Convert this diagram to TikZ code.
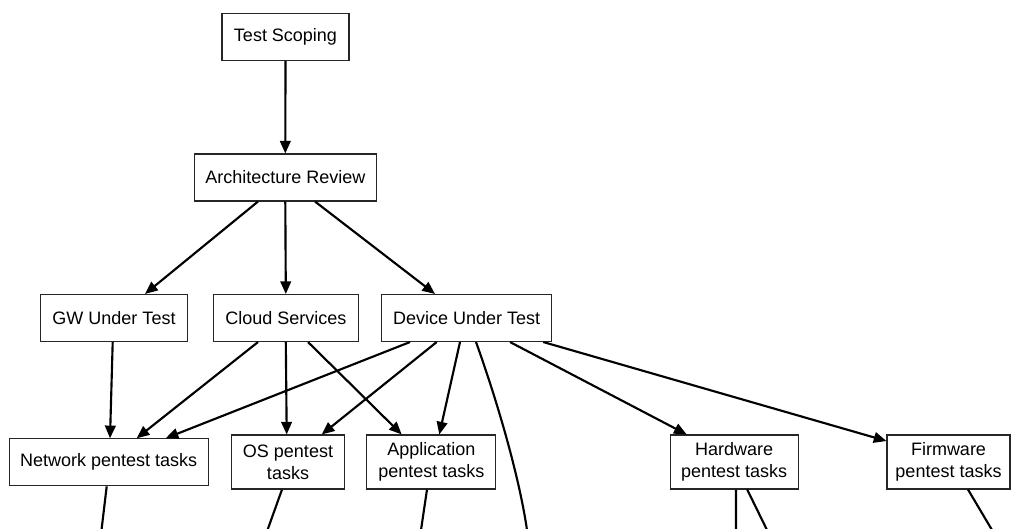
\documentclass[tikz,border=0pt]{standalone}
\usepackage{fontspec}
\setmainfont{Liberation Sans}
\usetikzlibrary{arrows.meta,calc}
\begin{document}
\begin{tikzpicture}[x=0.75pt,y=-0.75pt,
  box/.style={draw=black!85, line width=0.8pt, inner sep=0pt, align=center,
    font=\fontsize{13.5pt}{16.3pt}\selectfont},
  bx/.style 2 args={minimum width=#1*0.75pt, minimum height=#2*0.75pt},
  edge/.style={line width=1.6pt, -{Triangle[length=9.5pt,width=8pt]}},
  tailline/.style={line width=1.6pt}]
\useasboundingbox (0,0) rectangle (1012,528);
\begin{scope}
\clip (0,0) rectangle (1012,528);
% nodes
\node[box,bx={127}{47}] (ts)  at (285.5,37)    {Test Scoping};
\node[box,bx={182}{47}] (ar)  at (285.3,177.5) {Architecture Review};
\node[box,bx={147}{47}] (gw)  at (114,318)     {GW Under Test};
\node[box,bx={145}{47}] (cs)  at (285.8,318)   {Cloud Services};
\node[box,bx={170}{47}] (dut) at (466.7,318)   {Device Under Test};
\node[box,bx={199}{47}] (net) at (108.7,462.3) {Network pentest tasks};
\node[box,bx={113}{54}] (os)  at (288,462)     {OS pentest\\tasks};
\node[box,bx={129}{54}] (app) at (431.3,462)   {Application\\pentest tasks};
\node[box,bx={128}{54}] (hw)  at (734.2,462)   {Hardware\\pentest tasks};
\node[box,bx={123}{54}] (fw)  at (948.5,462)   {Firmware\\pentest tasks};
% loose ends at the bottom border
\coordinate (e1) at (101.5,530);
\coordinate (e2) at (267.5,530);
\coordinate (e3) at (421,530);
\coordinate (e4) at (527,530);
\coordinate (e5) at (736,530);
\coordinate (e6) at (767,530);
\coordinate (e7) at (992,530);
% edges
\draw[edge] (ts.south) -- (ar.north);
\draw[edge] ($(ar.south)+(-27.3,0)$) -- ($(gw.north)+(31,0)$);
\draw[edge] (ar.south) -- (cs.north);
\draw[edge] ($(ar.south)+(29.7,0)$) -- ($(dut.north)+(-31.7,0)$);
\draw[edge] ($(gw.south)+(-1.3,0)$) -- ($(net.north)+(1.3,0)$);
\draw[edge] ($(cs.south)+(-27.8,0)$) -- ($(net.north)+(28,0)$);
\draw[edge] (cs.south) -- ($(os.north)+(-1.3,0)$);
\draw[edge] ($(cs.south)+(22.2,0)$) -- ($(app.north)+(-29.6,0)$);
\draw[edge] ($(dut.south)+(-56.7,0)$) -- ($(net.north)+(57,0)$);
\draw[edge] ($(dut.south)+(-30,0)$) -- ($(os.north)+(33.7,0)$);
\draw[edge] ($(dut.south)+(-6.7,0)$) -- ($(app.north)+(8,0)$);
\draw[tailline] ($(dut.south)+(9.3,0)$) .. controls +(21.6,60) and (519.5,478) .. (e4);
\draw[edge] ($(dut.south)+(43.3,0)$) -- ($(hw.north)+(-47.5,0)$);
\draw[edge] ($(dut.south)+(76.6,0)$) -- ($(fw.west)+(0,-21)$);
\draw[tailline] ($(net.south)+(-2,0)$) -- (e1);
\draw[tailline] ($(os.south)+(-6,0)$) -- (e2);
\draw[tailline] ($(app.south)+(-4.3,0)$) -- (e3);
\draw[tailline] ($(hw.south)+(1.8,0)$) -- (e5);
\draw[tailline] ($(hw.south)+(13,0)$) -- (e6);
\draw[tailline] ($(fw.south)+(19.5,0)$) -- (e7);
\end{scope}
\end{tikzpicture}
\end{document}
